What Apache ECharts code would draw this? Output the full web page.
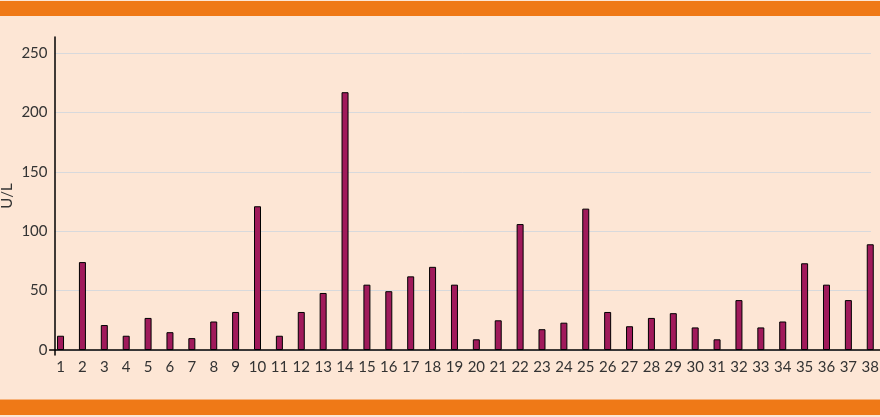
<!DOCTYPE html>
<html lang="en">
<head>
	<meta charset="UTF-8">
	<title>U/L</title>
	<script src="https://cdn.jsdelivr.net/npm/echarts@6/dist/echarts.min.js"></script>
	<style>
		html, body { margin: 0; padding: 0; background: #fde6d5; }
		#charts { width: 880px; height: 417px; }
	</style>
</head>
<body>
<div id="charts"></div>
<script>
	// sample numbers on the x axis
	var categories = ['1','2','3','4','5','6','7','8','9','10','11','12','13','14','15','16','17','18','19',
		'20','21','22','23','24','25','26','27','28','29','30','31','32','33','34','35','36','37','38'];
	// values, U/L
	var values = [12, 74, 21, 12, 27, 15, 10, 24, 32, 121, 12, 32, 48, 217, 55, 49.5, 62, 70, 55,
		9, 25, 106, 17.5, 23, 119, 32, 20, 27, 31, 19, 9, 42, 19, 24, 73, 55, 42, 89];
	var yTicks = [0, 50, 100, 150, 200, 250];

	var font = 'Lato, "DejaVu Sans", sans-serif';
	var charts = echarts.init(document.getElementById('charts'));

	charts.setOption({
		backgroundColor: '#fde6d5',
		animation: false,
		textStyle: { fontFamily: font },
		graphic: [
			{ type: 'rect', shape: { x: 0, y: 1, width: 880, height: 15 }, style: { fill: '#ef7917' } },
			{ type: 'rect', shape: { x: 0, y: 399, width: 880, height: 1 }, style: { fill: '#f7b27a' } },
			{ type: 'rect', shape: { x: 0, y: 400, width: 880, height: 15 }, style: { fill: '#ef7917' } }
		],
		grid: [
			// bars
			{ left: 49.6, width: 831.6, top: 53, height: 297, outerBoundsMode: 'none' },
			// y axis line
			{ left: 54.5, right: 9, top: 37, height: 318, outerBoundsMode: 'none' },
			// labels and split lines
			{ left: 54.5, right: 9, top: 53, height: 297, outerBoundsMode: 'none' }
		],
		xAxis: [
			{
				gridIndex: 0,
				type: 'category',
				data: categories,
				boundaryGap: true,
				axisLine: { lineStyle: { color: '#000', width: 1.5 } },
				axisTick: { show: false },
				axisLabel: { interval: 0, color: '#333', fontSize: 15, margin: 10, fontFamily: font }
			},
			{ gridIndex: 1, type: 'value', show: false },
			{ gridIndex: 2, type: 'value', show: false }
		],
		yAxis: [
			{ gridIndex: 0, type: 'value', min: 0, max: 250, show: false, splitLine: { show: false } },
			{
				gridIndex: 1,
				type: 'value',
				min: -4.2,
				max: 263.5,
				name: 'U/L',
				nameLocation: 'middle',
				nameGap: 40,
				nameTextStyle: { color: '#333', fontSize: 15, fontFamily: font },
				axisLine: { show: true, lineStyle: { color: '#000', width: 1.5 } },
				axisTick: { show: false },
				axisLabel: { show: false },
				splitLine: { show: false }
			},
			{
				gridIndex: 2,
				type: 'value',
				min: yTicks[0],
				max: yTicks[yTicks.length - 1],
				interval: 50,
				axisLine: { show: false },
				axisTick: { show: false },
				axisLabel: { color: '#333', fontSize: 15, margin: 7, fontFamily: font },
				splitLine: { lineStyle: { color: '#d8d9dc', width: 1 } }
			}
		],
		series: [
			{
				name: 'U/L',
				type: 'bar',
				xAxisIndex: 0,
				yAxisIndex: 0,
				barWidth: 7,
				itemStyle: { color: '#a01a5b', borderColor: '#000', borderWidth: 1 },
				data: values
			}
		]
	});
</script>
</body>
</html>
